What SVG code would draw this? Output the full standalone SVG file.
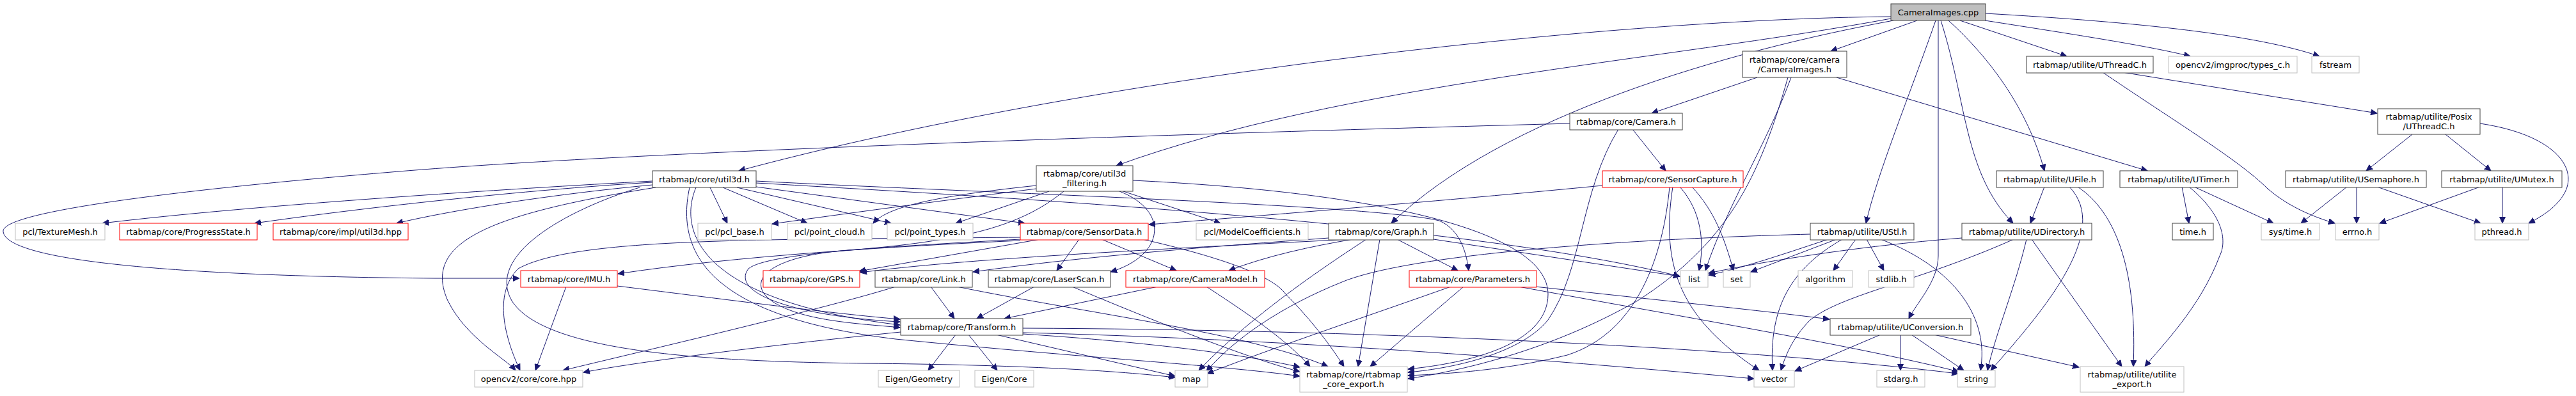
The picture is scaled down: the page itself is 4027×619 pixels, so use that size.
<svg xmlns="http://www.w3.org/2000/svg" width="4027" height="619" viewBox="0 0 4027 619">
<style>
.e{fill:none;stroke:#191970;stroke-width:1;marker-end:url(#a)}
rect{stroke-width:1}
rect.n{fill:#fff;stroke:#404040}
rect.r{fill:#fff;stroke:#ff0000}
rect.g{fill:#fff;stroke:#bfbfbf}
rect.root{fill:#bfbfbf;stroke:#404040}
text{font-family:"DejaVu Sans","Liberation Sans",sans-serif;font-size:13px;text-anchor:middle;fill:#000}
</style>
<defs>
<marker id="a" markerUnits="userSpaceOnUse" markerWidth="11" markerHeight="10" refX="10" refY="5" orient="auto"><path d="M0,0.5L10,5L0,9.5z" fill="#191970" stroke="#191970"/></marker>
</defs>
<rect width="4027" height="619" fill="#fff"/>
<g id="edges">
<path class="e" d="M2997,32 L2862,80"/>
<path class="e" d="M2956,26 C2500,30 1700,120 1155,267"/>
<path class="e" d="M2956,29 C2600,95 2100,130 1745,259"/>
<path class="e" d="M2960,32 C2700,80 2350,180 2175,349"/>
<path class="e" d="M3026,32 C2985,150 2935,270 2917,349"/>
<path class="e" d="M3030,32 L3030,400 C3030,440 2995,475 2984,498"/>
<path class="e" d="M3034,32 C3075,160 3070,270 3147,349"/>
<path class="e" d="M3046,32 C3110,90 3170,170 3196,267"/>
<path class="e" d="M3064,32 L3231,88"/>
<path class="e" d="M3103,32 C3250,55 3360,72 3424,88"/>
<path class="e" d="M3104,21 C3350,35 3530,55 3626,88"/>
<path class="e" d="M2747,121 L2582,177"/>
<path class="e" d="M2871,121 L3357,267"/>
<path class="e" d="M2800,121 C2760,230 2700,320 2666,423"/>
<path class="e" d="M2795,121 C2750,280 2700,380 2560,470 C2420,550 2280,580 2201,592"/>
<path class="e" d="M2552,202 L2604,267"/>
<path class="e" d="M2454,193 C1900,208 1000,235 600,270 C300,295 0,330 5,362 C10,410 300,432 680,435 L812,435"/>
<path class="e" d="M2530,202 C2470,300 2475,420 2420,500 C2380,550 2280,575 2201,582"/>
<path class="e" d="M2505,290 C2300,310 2000,335 1796,351"/>
<path class="e" d="M2610,292 C2600,400 2560,520 2450,555 C2350,580 2250,585 2201,587"/>
<path class="e" d="M2626,292 C2660,330 2665,380 2656,423"/>
<path class="e" d="M2645,292 C2680,330 2695,370 2710,423"/>
<path class="e" d="M2615,292 C2595,420 2630,500 2750,579"/>
<path class="e" d="M1620,295 C1500,310 1350,330 1207,350"/>
<path class="e" d="M1620,290 C1480,305 1390,320 1365,349"/>
<path class="e" d="M1640,299 L1494,349"/>
<path class="e" d="M1663,299 C1600,350 1520,375 1340,390 C1170,400 1150,460 1250,490 C1300,505 1370,508 1407,512"/>
<path class="e" d="M1756,299 L1908,349"/>
<path class="e" d="M1750,299 C1830,330 1820,400 1736,425"/>
<path class="e" d="M1771,282 C2150,300 2420,360 2420,460 C2420,530 2320,565 2201,577"/>
<path class="e" d="M1020,283 C800,295 400,320 160,349"/>
<path class="e" d="M1020,285 C850,295 600,320 398,349"/>
<path class="e" d="M1020,289 C850,305 700,330 620,349"/>
<path class="e" d="M1025,293 C760,335 660,380 700,470 C730,530 790,560 806,579"/>
<path class="e" d="M1000,293 C880,330 760,400 800,470 C850,550 1100,565 1350,568 C1600,570 1750,580 1837,590"/>
<path class="e" d="M1088,293 C1060,360 1090,470 1407,508"/>
<path class="e" d="M1110,293 L1137,349"/>
<path class="e" d="M1130,293 L1262,349"/>
<path class="e" d="M1152,293 L1393,349"/>
<path class="e" d="M1182,292 L1602,349"/>
<path class="e" d="M1182,283 C1500,300 2150,320 2250,345 C2285,360 2293,400 2296,423"/>
<path class="e" d="M1182,286 C1600,310 2300,350 2626,432"/>
<path class="e" d="M1078,293 C1050,420 1150,500 1400,530 C1700,560 1900,570 2032,588"/>
<path class="e" d="M1687,374 L1652,423"/>
<path class="e" d="M1722,374 L1839,423"/>
<path class="e" d="M1595,376 C1400,385 1150,400 966,428"/>
<path class="e" d="M1626,374 L1343,424"/>
<path class="e" d="M1595,371 C1200,375 900,370 810,420 C770,460 790,530 813,579"/>
<path class="e" d="M1595,374 C1400,385 1200,395 1170,420 C1140,460 1250,495 1407,503"/>
<path class="e" d="M1786,374 C1900,400 1990,430 2010,460 C2050,500 2080,540 2101,573"/>
<path class="e" d="M885,448 L837,579"/>
<path class="e" d="M965,447 C1150,470 1300,490 1407,499"/>
<path class="e" d="M1455,448 L1492,498"/>
<path class="e" d="M1400,448 C1300,480 1000,550 880,579"/>
<path class="e" d="M1496,448 C1700,490 1950,520 2076,573"/>
<path class="e" d="M1617,448 L1527,498"/>
<path class="e" d="M1676,448 C1800,500 1950,560 2032,581"/>
<path class="e" d="M1810,448 L1570,498"/>
<path class="e" d="M1886,448 C1950,490 2010,530 2048,573"/>
<path class="e" d="M1494,523 L1451,579"/>
<path class="e" d="M1514,523 L1559,579"/>
<path class="e" d="M1557,523 L1837,588"/>
<path class="e" d="M1408,519 C1200,540 1000,565 912,582"/>
<path class="e" d="M1599,520 C2000,530 2400,560 2742,592"/>
<path class="e" d="M1599,513 C2100,515 2700,540 3061,584"/>
<path class="e" d="M1599,522 C1800,535 1950,555 2032,574"/>
<path class="e" d="M2077,372 C1900,385 1700,400 1521,425"/>
<path class="e" d="M2110,374 C1800,390 1500,405 1345,426"/>
<path class="e" d="M2115,374 C2050,385 1980,400 1921,423"/>
<path class="e" d="M2136,374 C2050,430 1950,500 1874,579"/>
<path class="e" d="M2157,374 L2123,573"/>
<path class="e" d="M2184,374 L2279,423"/>
<path class="e" d="M2241,374 L2626,432"/>
<path class="e" d="M2400,448 C2600,470 2750,485 2860,499"/>
<path class="e" d="M2374,448 C2600,490 2900,540 3062,581"/>
<path class="e" d="M2268,448 C2150,490 2000,540 1887,584"/>
<path class="e" d="M2288,448 L2142,573"/>
<path class="e" d="M2858,374 C2780,400 2720,420 2671,430"/>
<path class="e" d="M2871,374 L2737,425"/>
<path class="e" d="M2880,374 C2800,420 2765,480 2771,579"/>
<path class="e" d="M2901,374 L2866,423"/>
<path class="e" d="M2918,374 L2945,423"/>
<path class="e" d="M2940,374 C3060,420 3110,500 3096,579"/>
<path class="e" d="M2830,366 C2500,375 2200,400 2100,440 C2000,480 1930,530 1886,580"/>
<path class="e" d="M3067,372 C2900,385 2750,410 2671,427"/>
<path class="e" d="M3148,374 C3000,440 2880,460 2830,500 C2800,530 2790,560 2784,579"/>
<path class="e" d="M3168,374 C3150,450 3120,520 3107,579"/>
<path class="e" d="M3176,374 L3317,573"/>
<path class="e" d="M3196,292 L3174,349"/>
<path class="e" d="M3235,292 C3300,360 3200,480 3112,579"/>
<path class="e" d="M3248,292 C3320,340 3340,450 3335,573"/>
<path class="e" d="M2940,523 L2806,580"/>
<path class="e" d="M2971,523 L2971,579"/>
<path class="e" d="M2988,523 L3070,579"/>
<path class="e" d="M3023,523 L3250,574"/>
<path class="e" d="M3411,292 L3422,349"/>
<path class="e" d="M3430,292 L3554,349"/>
<path class="e" d="M3422,292 C3480,340 3480,380 3470,400 C3440,480 3380,540 3353,573"/>
<path class="e" d="M3669,292 L3597,349"/>
<path class="e" d="M3684,292 L3684,349"/>
<path class="e" d="M3716,292 L3878,349"/>
<path class="e" d="M3877,292 L3720,349"/>
<path class="e" d="M3912,292 L3912,349"/>
<path class="e" d="M3771,210 L3699,267"/>
<path class="e" d="M3823,210 L3894,267"/>
<path class="e" d="M3877,193 C3990,210 4030,260 4010,300 C4000,320 3980,335 3953,349"/>
<path class="e" d="M3318,113 L3716,177"/>
<path class="e" d="M3287,113 C3400,190 3500,250 3545,295 C3580,325 3620,340 3650,349"/>
</g>
<g id="n_cpp"><rect class="root" x="2956" y="6" width="148" height="26"/><text x="3030" y="23.5">CameraImages.cpp</text></g>
<g id="n_camimg"><rect class="n" x="2724" y="80" width="163" height="41"/><text x="2805.5" y="97.5">rtabmap/core/camera</text><text x="2805.5" y="112.5">/CameraImages.h</text></g>
<g id="n_uthreadc"><rect class="n" x="3168" y="88" width="198" height="26"/><text x="3267" y="105.5">rtabmap/utilite/UThreadC.h</text></g>
<g id="n_typesc"><rect class="g" x="3390" y="88" width="201" height="26"/><text x="3490.5" y="105.5">opencv2/imgproc/types_c.h</text></g>
<g id="n_fstream"><rect class="g" x="3614" y="88" width="74" height="26"/><text x="3651" y="105.5">fstream</text></g>
<g id="n_camera"><rect class="n" x="2454" y="177" width="176" height="26"/><text x="2542" y="194.5">rtabmap/core/Camera.h</text></g>
<g id="n_posix"><rect class="n" x="3717" y="170" width="160" height="40"/><text x="3797" y="187">rtabmap/utilite/Posix</text><text x="3797" y="202">/UThreadC.h</text></g>
<g id="n_util3d"><rect class="n" x="1020" y="267" width="162" height="26"/><text x="1101" y="284.5">rtabmap/core/util3d.h</text></g>
<g id="n_filtering"><rect class="n" x="1620" y="259" width="151" height="40"/><text x="1695.5" y="276">rtabmap/core/util3d</text><text x="1695.5" y="291">_filtering.h</text></g>
<g id="n_sensorcap"><rect class="r" x="2505" y="267" width="220" height="26"/><text x="2615" y="284.5">rtabmap/core/SensorCapture.h</text></g>
<g id="n_ufile"><rect class="n" x="3121" y="267" width="167" height="26"/><text x="3204.5" y="284.5">rtabmap/utilite/UFile.h</text></g>
<g id="n_utimer"><rect class="n" x="3314" y="267" width="184" height="26"/><text x="3406" y="284.5">rtabmap/utilite/UTimer.h</text></g>
<g id="n_usem"><rect class="n" x="3573" y="267" width="220" height="26"/><text x="3683" y="284.5">rtabmap/utilite/USemaphore.h</text></g>
<g id="n_umutex"><rect class="n" x="3817" y="267" width="188" height="26"/><text x="3911" y="284.5">rtabmap/utilite/UMutex.h</text></g>
<g id="n_texmesh"><rect class="g" x="24" y="349" width="140" height="26"/><text x="94" y="366.5">pcl/TextureMesh.h</text></g>
<g id="n_progress"><rect class="r" x="187" y="349" width="215" height="26"/><text x="294.5" y="366.5">rtabmap/core/ProgressState.h</text></g>
<g id="n_impl"><rect class="r" x="427" y="349" width="211" height="26"/><text x="532.5" y="366.5">rtabmap/core/impl/util3d.hpp</text></g>
<g id="n_pclbase"><rect class="g" x="1091" y="349" width="115" height="26"/><text x="1148.5" y="366.5">pcl/pcl_base.h</text></g>
<g id="n_pointcloud"><rect class="g" x="1231" y="349" width="132" height="26"/><text x="1297" y="366.5">pcl/point_cloud.h</text></g>
<g id="n_pointtypes"><rect class="g" x="1387" y="349" width="134" height="26"/><text x="1454" y="366.5">pcl/point_types.h</text></g>
<g id="n_sensordata"><rect class="r" x="1595" y="349" width="200" height="26"/><text x="1695" y="366.5">rtabmap/core/SensorData.h</text></g>
<g id="n_modelcoef"><rect class="g" x="1870" y="349" width="175" height="26"/><text x="1957.5" y="366.5">pcl/ModelCoefficients.h</text></g>
<g id="n_graph"><rect class="n" x="2077" y="349" width="164" height="26"/><text x="2159" y="366.5">rtabmap/core/Graph.h</text></g>
<g id="n_ustl"><rect class="n" x="2830" y="349" width="162" height="26"/><text x="2911" y="366.5">rtabmap/utilite/UStl.h</text></g>
<g id="n_udir"><rect class="n" x="3067" y="349" width="203" height="26"/><text x="3168.5" y="366.5">rtabmap/utilite/UDirectory.h</text></g>
<g id="n_time"><rect class="n" x="3396" y="349" width="64" height="26"/><text x="3428" y="366.5">time.h</text></g>
<g id="n_systime"><rect class="g" x="3535" y="349" width="91" height="26"/><text x="3580.5" y="366.5">sys/time.h</text></g>
<g id="n_errno"><rect class="g" x="3651" y="349" width="68" height="26"/><text x="3685" y="366.5">errno.h</text></g>
<g id="n_pthread"><rect class="g" x="3869" y="349" width="84" height="26"/><text x="3911" y="366.5">pthread.h</text></g>
<g id="n_imu"><rect class="r" x="814" y="423" width="151" height="26"/><text x="889.5" y="440.5">rtabmap/core/IMU.h</text></g>
<g id="n_gps"><rect class="r" x="1193" y="423" width="151" height="26"/><text x="1268.5" y="440.5">rtabmap/core/GPS.h</text></g>
<g id="n_link"><rect class="n" x="1368" y="423" width="152" height="26"/><text x="1444" y="440.5">rtabmap/core/Link.h</text></g>
<g id="n_laserscan"><rect class="n" x="1545" y="423" width="191" height="26"/><text x="1640.5" y="440.5">rtabmap/core/LaserScan.h</text></g>
<g id="n_cammodel"><rect class="r" x="1760" y="423" width="217" height="26"/><text x="1868.5" y="440.5">rtabmap/core/CameraModel.h</text></g>
<g id="n_params"><rect class="r" x="2203" y="423" width="199" height="26"/><text x="2302.5" y="440.5">rtabmap/core/Parameters.h</text></g>
<g id="n_list"><rect class="g" x="2627" y="423" width="43" height="26"/><text x="2648.5" y="440.5">list</text></g>
<g id="n_set"><rect class="g" x="2694" y="423" width="42" height="26"/><text x="2715" y="440.5">set</text></g>
<g id="n_algorithm"><rect class="g" x="2811" y="423" width="85" height="26"/><text x="2853.5" y="440.5">algorithm</text></g>
<g id="n_stdlib"><rect class="g" x="2921" y="423" width="71" height="26"/><text x="2956.5" y="440.5">stdlib.h</text></g>
<g id="n_transform"><rect class="n" x="1408" y="498" width="191" height="26"/><text x="1503.5" y="515.5">rtabmap/core/Transform.h</text></g>
<g id="n_uconv"><rect class="n" x="2861" y="498" width="220" height="26"/><text x="2971" y="515.5">rtabmap/utilite/UConversion.h</text></g>
<g id="n_opencv"><rect class="g" x="742" y="579" width="169" height="26"/><text x="826.5" y="596.5">opencv2/core/core.hpp</text></g>
<g id="n_eigengeo"><rect class="g" x="1373" y="579" width="127" height="26"/><text x="1436.5" y="596.5">Eigen/Geometry</text></g>
<g id="n_eigencore"><rect class="g" x="1524" y="579" width="92" height="26"/><text x="1570" y="596.5">Eigen/Core</text></g>
<g id="n_map"><rect class="g" x="1837" y="579" width="51" height="26"/><text x="1862.5" y="596.5">map</text></g>
<g id="n_coreexport"><rect class="g" x="2032" y="573" width="168" height="40"/><text x="2116" y="590">rtabmap/core/rtabmap</text><text x="2116" y="605">_core_export.h</text></g>
<g id="n_vector"><rect class="g" x="2742" y="579" width="63" height="26"/><text x="2773.5" y="596.5">vector</text></g>
<g id="n_stdarg"><rect class="g" x="2934" y="579" width="75" height="26"/><text x="2971.5" y="596.5">stdarg.h</text></g>
<g id="n_string"><rect class="g" x="3060" y="579" width="59" height="26"/><text x="3089.5" y="596.5">string</text></g>
<g id="n_utilexport"><rect class="g" x="3252" y="573" width="162" height="40"/><text x="3333" y="590">rtabmap/utilite/utilite</text><text x="3333" y="605">_export.h</text></g>
</svg>
